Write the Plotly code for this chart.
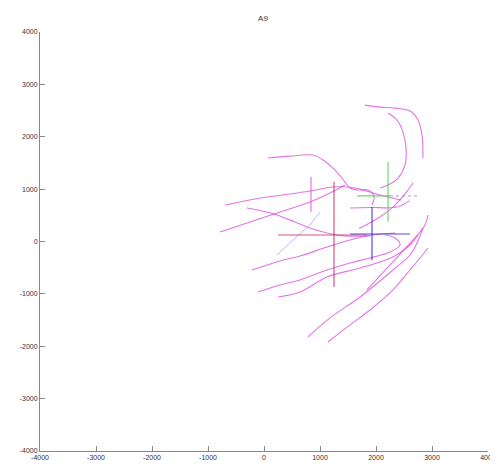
import plotly.graph_objects as go

# ---- magenta trajectories (data units) ----
arc_outer_x = [1804, 2071, 2339, 2607, 2750, 2821, 2839]
arc_outer_y = [2604, 2566, 2547, 2490, 2318, 2032, 1593]

arc_inner_x = [2214, 2375, 2482, 2536, 2518, 2393, 2214, 2071]
arc_inner_y = [2452, 2318, 2089, 1784, 1460, 1212, 1078, 1021]

upper_x = [71, 464, 875, 1054, 1232, 1393, 1536, 1679, 1857, 1964, 1929]
upper_y = [1593, 1631, 1650, 1555, 1402, 1212, 1021, 983, 983, 868, 696]

left1_x = [-696, -71, 464, 821, 1232, 1625, 2071, 2446]
left1_y = [696, 830, 906, 963, 1040, 1021, 887, 792]

left2_x = [-786, -250, 286, 821, 1179, 1446]
left2_y = [181, 372, 563, 754, 925, 1078]

desc_x = [-304, -36, 232, 554, 821, 1125, 1446, 1893]
desc_y = [639, 582, 506, 372, 258, 162, 105, 105]

lineA_x = [-214, 286, 643, 1125, 1536, 1929, 2339]
lineA_y = [-544, -372, -277, -105, 29, 124, 162]

lineB_x = [-107, 286, 643, 1125, 1536, 1893, 2250, 2429, 2339, 2161]
lineB_y = [-964, -830, -735, -544, -410, -315, -200, -67, 67, 124]

lineC_x = [250, 643, 1125, 1714, 2304, 2607, 2750]
lineC_y = [-1059, -964, -677, -506, -296, -67, 124]

lineD_x = [786, 1179, 1714, 2304, 2607, 2732, 2839]
lineD_y = [-1822, -1459, -1059, -544, -258, -29, 258]

lineE_x = [1143, 1536, 1893, 2304, 2607, 2786, 2929]
lineE_y = [-1918, -1593, -1307, -925, -544, -315, -124]

arcF_x = [1839, 2250, 2661, 2875, 2929]
arcF_y = [-925, -448, 29, 315, 506]

hook_x = [2661, 2571, 2304, 1982, 1700]
hook_y = [1116, 983, 658, 410, 250]

mid_x = [1536, 1900, 2375, 2600]
mid_y = [639, 650, 658, 780]

faint_x = [232, 554, 821, 1000]
faint_y = [-258, 67, 315, 563]

# ---- crosses: centre, x extent, y extent ----
red_c = [1250, 124]
red_xr = [250, 1840]
red_yr = [-868, 1135]

blue_c = [1929, 143]
blue_xr = [1536, 2607]
blue_yr = [-353, 658]

green_c = [2214, 870]
green_xr = [1660, 2250]
green_yr = [380, 1520]
grey_xr = [2250, 2786]

small_c = [839, 900]
small_yr = [563, 1231]

ticks = [-4000, -3000, -2000, -1000, 0, 1000, 2000, 3000, 4000]

MAG = "rgba(220,70,220,0.75)"
fig = go.Figure()

magenta = [
    (arc_outer_x, arc_outer_y), (arc_inner_x, arc_inner_y), (upper_x, upper_y),
    (left1_x, left1_y), (left2_x, left2_y), (desc_x, desc_y),
    (lineA_x, lineA_y), (lineB_x, lineB_y), (lineC_x, lineC_y),
    (lineD_x, lineD_y), (lineE_x, lineE_y), (arcF_x, arcF_y),
    (hook_x, hook_y), (mid_x, mid_y),
]
for xs, ys in magenta:
    fig.add_trace(go.Scatter(x=xs, y=ys, mode="lines", line=dict(color=MAG, width=1.1, shape="spline"),
                             showlegend=False, hoverinfo="skip"))

fig.add_trace(go.Scatter(x=faint_x, y=faint_y, mode="lines",
                         line=dict(color="rgba(170,150,240,0.7)", width=1), showlegend=False))

def cross(c, xr, yr, color, width=1.2):
    fig.add_trace(go.Scatter(x=[xr[0], xr[1]], y=[c[1], c[1]], mode="lines",
                             line=dict(color=color, width=width), showlegend=False))
    fig.add_trace(go.Scatter(x=[c[0], c[0]], y=[yr[0], yr[1]], mode="lines",
                             line=dict(color=color, width=width), showlegend=False))

cross(red_c, red_xr, red_yr, "rgba(200,40,100,0.8)")
cross(blue_c, blue_xr, blue_yr, "rgba(50,50,200,0.85)")
cross(green_c, green_xr, green_yr, "rgba(80,210,80,0.85)")
fig.add_trace(go.Scatter(x=grey_xr, y=[green_c[1], green_c[1]], mode="lines",
                         line=dict(color="rgba(150,150,170,0.9)", width=1, dash="dot"), showlegend=False))
fig.add_trace(go.Scatter(x=[small_c[0], small_c[0]], y=small_yr, mode="lines",
                         line=dict(color=MAG, width=1.2), showlegend=False))

fig.update_layout(
    width=498, height=472,
    margin=dict(l=32, r=18, t=24, b=29, autoexpand=False),
    paper_bgcolor="white", plot_bgcolor="white",
    title=dict(text="A9", x=0.512, xanchor="center", y=0.979, yanchor="middle",
               font=dict(family="Liberation Sans, Arial", size=8, color="#333"), automargin=False),
    font=dict(family="Liberation Sans, Arial", size=7, color="#333"),
    showlegend=False,
)
axis_common = dict(showgrid=False, zeroline=False, showline=True, linecolor="#888", linewidth=1,
                   ticks="inside", ticklen=5, tickcolor="#888", tickvals=ticks, automargin=False,
                   ticktext=[str(t) for t in ticks], tickfont=dict(size=7, color="#333"))
fig.update_xaxes(range=[-4000, 4000], **axis_common)
fig.update_yaxes(range=[-4000, 4000], **axis_common)

fig.write_html("out.html")
